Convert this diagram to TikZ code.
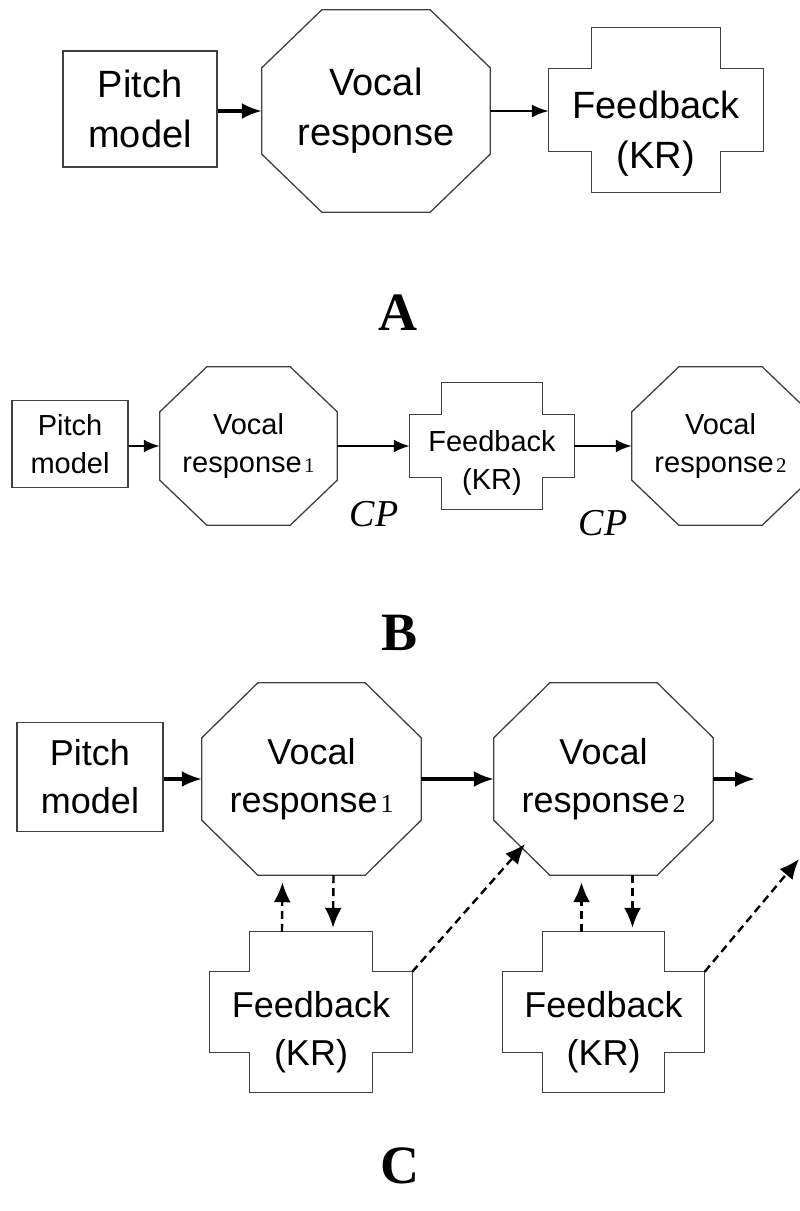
\documentclass[tikz,border=0pt]{standalone}
\usepackage{fontspec}
\setmainfont{Liberation Sans}
\newfontfamily\seriffont{Liberation Serif}
\usetikzlibrary{arrows.meta}
\usetikzlibrary{calc}
\usetikzlibrary{positioning}
\newcommand\fsA{\fontsize{38}{50}\selectfont}
\newcommand\fsB{\fontsize{29}{38}\selectfont}
\newcommand\fsC{\fontsize{36}{48}\selectfont}
\newcommand\respnum[1]{\hspace{0.08em}{\seriffont\scalebox{0.72}{#1}}}
\tikzstyle{rec} = [rectangle, draw=black!75, line width=1.3pt, align=center, inner sep=0pt]
\tikzstyle{hold} = [rectangle, align=center, inner sep=0pt]
\tikzstyle{frame} = [draw=black!75, line width=1.3pt]
\tikzstyle{line} = [draw, line width=3.2pt, -{Latex[length=20pt,width=16pt]}]
\tikzstyle{thinline} = [draw, line width=2.2pt, -{Latex[length=17pt,width=13pt]}]
\tikzstyle{midline} = [draw, line width=2.6pt, -{Latex[length=16pt,width=13pt]}]
\tikzstyle{dline} = [draw, line width=2.4pt, dash pattern=on 8pt off 5pt, -{Latex[length=20pt,width=17pt]}]
\tikzstyle{panel} = [font=\seriffont\bfseries\fontsize{54}{54}\selectfont]
\tikzstyle{cp} = [font=\seriffont\itshape\fontsize{38}{38}\selectfont]
% octagon outline round a holder node: node, cut x, cut y
\newcommand\octframe[3]{%
  \draw[frame] ($(#1.north west)+(#2,0)$) -- ($(#1.north east)+(-#2,0)$)
    -- ($(#1.north east)+(0,-#3)$) -- ($(#1.south east)+(0,#3)$)
    -- ($(#1.south east)+(-#2,0)$) -- ($(#1.south west)+(#2,0)$)
    -- ($(#1.south west)+(0,#3)$) -- ($(#1.north west)+(0,-#3)$) -- cycle;}
% cross outline round a holder node: node, notch x, notch y
\newcommand\crossframe[3]{%
  \draw[frame] ($(#1.north west)+(#2,0)$) -- ($(#1.north east)+(-#2,0)$)
    -- ($(#1.north east)+(-#2,-#3)$) -- ($(#1.north east)+(0,-#3)$)
    -- ($(#1.south east)+(0,#3)$) -- ($(#1.south east)+(-#2,#3)$)
    -- ($(#1.south east)+(-#2,0)$) -- ($(#1.south west)+(#2,0)$)
    -- ($(#1.south west)+(#2,#3)$) -- ($(#1.south west)+(0,#3)$)
    -- ($(#1.north west)+(0,-#3)$) -- ($(#1.north west)+(#2,-#3)$) -- cycle;}

\begin{document}
\begin{tikzpicture}[x=1pt, y=-1pt]
	\useasboundingbox (0,0) rectangle (800,1211);
	% A
	\node [rec, minimum width=154pt, minimum height=116pt, font=\fsA] (pitchA) at (140,109) {Pitch\\model};
	\node [hold, minimum width=228pt, minimum height=202pt, font=\fsA] (vocA) at (376,111) {Vocal\\response};
	\node [hold, minimum width=214pt, minimum height=164pt, label={[font=\fsA, align=center, yshift=-24pt]center:{Feedback\\(KR)}}] (fbA) at (656,110) {};
	\octframe{vocA}{60pt}{58pt}
	\crossframe{fbA}{43pt}{41pt}
	\path [line] (pitchA.east |- vocA) -- (vocA);
	\path [thinline] (vocA) -- (vocA -| fbA.west);
	\node [panel] (labA) at (398,313) {A};
	
	% B
	\node [rec, minimum width=116pt, minimum height=87pt, font=\fsB] (pitchB) at (70,444) {Pitch\\model};
	\node [hold, minimum width=177pt, minimum height=158pt, font=\fsB] (vocB1) at (248.5,446) {Vocal\\response\respnum{1}};
	\node [hold, minimum width=164pt, minimum height=127pt, label={[font=\fsB, align=center, yshift=-17pt]center:{Feedback\\(KR)}}] (fbB) at (492,446) {};
	\node [hold, minimum width=177pt, minimum height=158pt, font=\fsB] (vocB2) at (720.5,446) {Vocal\\response\respnum{2}};
	\octframe{vocB1}{47pt}{45pt}
	\crossframe{fbB}{32pt}{32pt}
	\octframe{vocB2}{47pt}{45pt}
	\node [cp] (cp1) at (374,514) {CP};
	\node [cp] (cp2) at (603,523) {CP};
	\path [midline] (pitchB.east |- vocB1) -- (vocB1);
	\path [midline] (vocB1) -- (fbB);
	\path [midline] (fbB) -- (vocB2);
	\node [panel] (labB) at (400,633) {B};
	
	% C
	\node [rec, minimum width=146pt, minimum height=109pt, font=\fsC] (pitchC) at (90,777) {Pitch\\model};
	\node [hold, minimum width=219pt, minimum height=192pt, font=\fsC] (vocC1) at (311.5,779) {Vocal\\response\respnum{1}};
	\node [hold, minimum width=219pt, minimum height=192pt, font=\fsC] (vocC2) at (603.5,779) {Vocal\\response\respnum{2}};
	\node [hold, minimum width=202pt, minimum height=160pt, label={[font=\fsC, align=center, yshift=-20pt]center:{Feedback\\(KR)}}] (fbC1) at (311,1012) {};
	\node [hold, minimum width=202pt, minimum height=160pt, label={[font=\fsC, align=center, yshift=-20pt]center:{Feedback\\(KR)}}] (fbC2) at (603.5,1012) {};
	\octframe{vocC1}{56pt}{55pt}
	\octframe{vocC2}{56pt}{55pt}
	\crossframe{fbC1}{40pt}{40pt}
	\crossframe{fbC2}{40pt}{40pt}
	\coordinate (outC) at (755,779);
	\coordinate (inC2) at (525,844);
	\coordinate (outC2) at (799,859);
	\path [line] (pitchC.east |- vocC1) -- (vocC1);
	\path [line] (vocC1) -- (vocC2);
	\path [line] (vocC2) -- (outC);
	\path [dline, shorten >=7pt] ($(fbC1.north)+(-29pt,0)$) -- ($(vocC1.south)+(-29pt,0)$);
	\path [dline, shorten >=4pt] ($(vocC1.south)+(22pt,0)$) -- ($(fbC1.north)+(22pt,0)$);
	\path [dline] ($(fbC1.north east)+(0,-40pt)$) -- (inC2);
	\path [dline, shorten >=7pt] ($(fbC2.north)+(-22pt,0)$) -- ($(vocC2.south)+(-22pt,0)$);
	\path [dline, shorten >=4pt] ($(vocC2.south)+(29pt,0)$) -- ($(fbC2.north)+(29pt,0)$);
	\path [dline] ($(fbC2.north east)+(0,-40pt)$) -- (outC2);
	\node [panel] (labC) at (400,1166) {C};
\end{tikzpicture}
\end{document}
